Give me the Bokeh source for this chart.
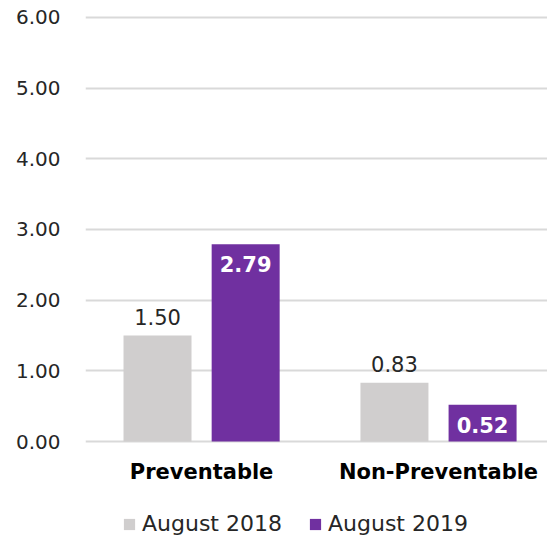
from bokeh.plotting import figure
from bokeh.models import (ColumnDataSource, Range1d, FixedTicker, Legend, LegendItem,
                          LabelSet, NumeralTickFormatter)
from bokeh.core.properties import value
from bokeh.transform import dodge
from bokeh.embed import file_html
from bokeh.resources import INLINE

categories = ["Preventable", "Non-Preventable"]
series_names = ["August 2018", "August 2019"]
aug2018 = [1.50, 0.83]
aug2019 = [2.79, 0.52]
y_ticks = [0, 1, 2, 3, 4, 5, 6]

FONT = "DejaVu Sans"
GRAY = "#d0cece"
PURPLE = "#7030a0"

src = ColumnDataSource(dict(
    x=list(range(len(categories))),
    cat=categories,
    zero=[0] * len(categories),
    a=aug2018,
    b=aug2019,
    a_lbl=[f"{v:.2f}" for v in aug2018],
    b_lbl=[f"{v:.2f}" for v in aug2019],
))

p = figure(width=547, height=542, output_backend="svg", toolbar_location=None,
           x_range=Range1d(-0.49, 1.46), y_range=Range1d(-1.429, 6.028),
           min_border_left=85, min_border_right=0, min_border_top=15, min_border_bottom=0)
p.outline_line_color = None
p.background_fill_color = "white"
p.border_fill_color = "white"

r1 = p.vbar(x=dodge("x", -0.186, range=p.x_range), top="a", bottom=0, width=0.287, source=src,
            fill_color=GRAY, line_color=None)
r2 = p.vbar(x=dodge("x", 0.186, range=p.x_range), top="b", bottom=0, width=0.287, source=src,
            fill_color=PURPLE, line_color=None)

p.add_layout(LabelSet(x=dodge("x", -0.186, range=p.x_range), y="a", text="a_lbl", source=src,
                      text_align="center", text_baseline="bottom", y_offset=11,
                      text_font=value(FONT), text_font_size="21px", text_color="#262626"))
p.add_layout(LabelSet(x=dodge("x", 0.186, range=p.x_range), y="b", text="b_lbl", source=src,
                      text_align="center", text_baseline="top", y_offset=-12,
                      text_font=value(FONT), text_font_size="21px", text_font_style="bold",
                      text_color="white"))
# category labels under the baseline
p.add_layout(LabelSet(x="x", y="zero", text="cat", source=src,
                      text_align="center", text_baseline="top", y_offset=-18,
                      text_font=value(FONT), text_font_size="21px", text_font_style="bold",
                      text_color="black"))

p.yaxis.ticker = FixedTicker(ticks=y_ticks)
p.yaxis.formatter = NumeralTickFormatter(format="0.00")
p.yaxis.axis_line_color = None
p.yaxis.major_tick_line_color = None
p.yaxis.minor_tick_line_color = None
p.yaxis.major_label_standoff = 19
p.yaxis.major_label_text_font = FONT
p.yaxis.major_label_text_font_size = "20px"
p.yaxis.major_label_text_color = "#262626"

p.xaxis.visible = False

p.xgrid.grid_line_color = None
p.ygrid.grid_line_color = "#d9d9d9"
p.ygrid.grid_line_width = 2
p.ygrid.ticker = FixedTicker(ticks=y_ticks)

legend = Legend(items=[LegendItem(label=series_names[0], renderers=[r1]),
                       LegendItem(label=series_names[1], renderers=[r2])],
                orientation="horizontal", location=(37, 6),
                label_text_font=FONT, label_text_font_size="22px", label_text_color="#262626",
                glyph_width=14, glyph_height=14, spacing=26, label_standoff=6,
                background_fill_alpha=0, border_line_color=None, padding=0, margin=0)
p.add_layout(legend, "center")

open("out.html", "w").write(file_html(p, INLINE))
